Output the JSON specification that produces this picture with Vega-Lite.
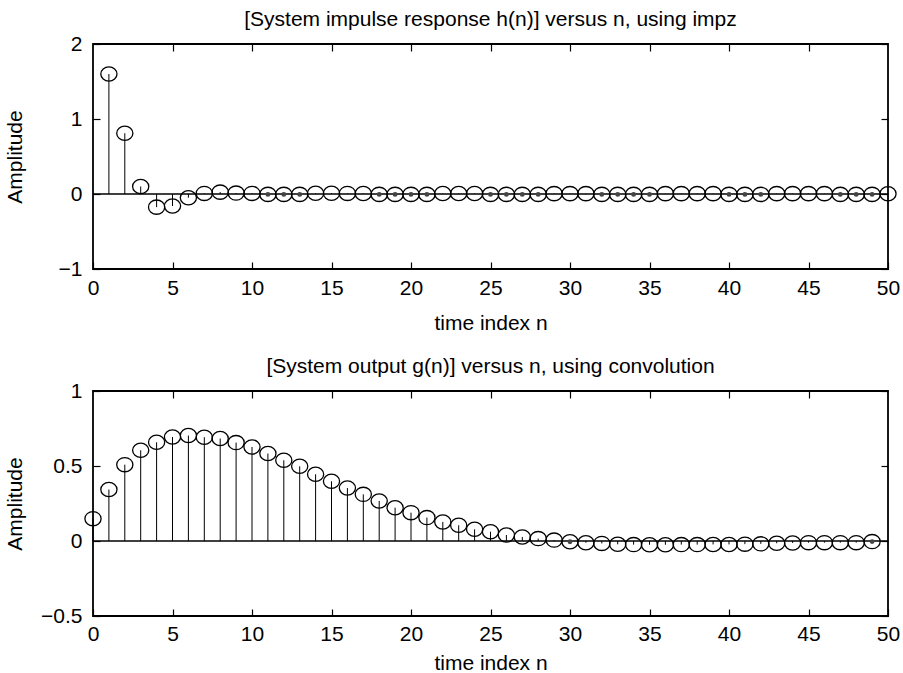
{
  "$schema": "https://vega.github.io/schema/vega-lite/v6.json",
  "background": "white",
  "padding": {"left": 3, "top": 8, "right": 4, "bottom": 4},
  "bounds": "flush",
  "spacing": 122,
  "config": {
    "font": "Liberation Sans",
    "view": {"stroke": "black", "strokeWidth": 1.8},
    "axis": {
      "domain": false, "grid": false, "tickColor": "black", "tickWidth": 1.2, "tickSize": -7,
      "labelFontSize": 21, "labelColor": "black", "titleFontSize": 21, "titleColor": "black",
      "titleFontWeight": "normal", "labelFlush": false, "labelOverlap": false, "labelFont": "Liberation Sans", "titleFont": "Liberation Sans"
    },
    "title": {"fontSize": 21, "fontWeight": "normal", "color": "black", "font": "Liberation Sans"}
  },
  "datasets": {
    "h": [
      {"n": 1, "h": 1.60}, {"n": 2, "h": 0.81}, {"n": 3, "h": 0.10}, {"n": 4, "h": -0.175}, {"n": 5, "h": -0.16},
      {"n": 6, "h": -0.05}, {"n": 7, "h": 0.008}, {"n": 8, "h": 0.025}, {"n": 9, "h": 0.012}, {"n": 10, "h": 0.008},
      {"n": 11, "h": -0.005}, {"n": 12, "h": -0.005}, {"n": 13, "h": -0.005}, {"n": 14, "h": 0.01}, {"n": 15, "h": 0.01},
      {"n": 16, "h": 0.008}, {"n": 17, "h": 0.006}, {"n": 18, "h": -0.005}, {"n": 19, "h": -0.005}, {"n": 20, "h": -0.005},
      {"n": 21, "h": -0.005}, {"n": 22, "h": 0.006}, {"n": 23, "h": 0.006}, {"n": 24, "h": 0.006}, {"n": 25, "h": -0.005},
      {"n": 26, "h": -0.005}, {"n": 27, "h": -0.005}, {"n": 28, "h": -0.005}, {"n": 29, "h": 0.005}, {"n": 30, "h": 0.005},
      {"n": 31, "h": 0.005}, {"n": 32, "h": -0.005}, {"n": 33, "h": -0.005}, {"n": 34, "h": -0.005}, {"n": 35, "h": -0.005},
      {"n": 36, "h": 0.005}, {"n": 37, "h": 0.005}, {"n": 38, "h": 0.005}, {"n": 39, "h": 0.005}, {"n": 40, "h": -0.005},
      {"n": 41, "h": -0.005}, {"n": 42, "h": -0.005}, {"n": 43, "h": 0.005}, {"n": 44, "h": 0.005}, {"n": 45, "h": 0.005},
      {"n": 46, "h": 0.005}, {"n": 47, "h": -0.005}, {"n": 48, "h": -0.005}, {"n": 49, "h": -0.005}, {"n": 50, "h": 0.004}
    ],
    "g": [
      {"n": 0, "g": 0.149}, {"n": 1, "g": 0.343}, {"n": 2, "g": 0.509}, {"n": 3, "g": 0.605}, {"n": 4, "g": 0.658},
      {"n": 5, "g": 0.693}, {"n": 6, "g": 0.703}, {"n": 7, "g": 0.692}, {"n": 8, "g": 0.683}, {"n": 9, "g": 0.656},
      {"n": 10, "g": 0.627}, {"n": 11, "g": 0.583}, {"n": 12, "g": 0.538}, {"n": 13, "g": 0.498}, {"n": 14, "g": 0.445},
      {"n": 15, "g": 0.398}, {"n": 16, "g": 0.353}, {"n": 17, "g": 0.311}, {"n": 18, "g": 0.267}, {"n": 19, "g": 0.222},
      {"n": 20, "g": 0.189}, {"n": 21, "g": 0.156}, {"n": 22, "g": 0.127}, {"n": 23, "g": 0.105}, {"n": 24, "g": 0.078},
      {"n": 25, "g": 0.062}, {"n": 26, "g": 0.040}, {"n": 27, "g": 0.027}, {"n": 28, "g": 0.016}, {"n": 29, "g": 0.006},
      {"n": 30, "g": -0.005}, {"n": 31, "g": -0.012}, {"n": 32, "g": -0.016}, {"n": 33, "g": -0.022}, {"n": 34, "g": -0.024},
      {"n": 35, "g": -0.025}, {"n": 36, "g": -0.025}, {"n": 37, "g": -0.024}, {"n": 38, "g": -0.024}, {"n": 39, "g": -0.023},
      {"n": 40, "g": -0.023}, {"n": 41, "g": -0.021}, {"n": 42, "g": -0.019}, {"n": 43, "g": -0.015}, {"n": 44, "g": -0.013},
      {"n": 45, "g": -0.011}, {"n": 46, "g": -0.011}, {"n": 47, "g": -0.011}, {"n": 48, "g": -0.011}, {"n": 49, "g": -0.004}
    ]
  },
  "vconcat": [
    {
      "width": 795, "height": 225,
      "title": {"text": "[System impulse response h(n)] versus n, using impz", "offset": 3},
      "data": {"name": "h"},
      "layer": [
        {
          "data": {"values": [{"z": 0}]},
          "mark": {"type": "rule", "color": "black", "strokeWidth": 1.3},
          "encoding": {"y": {"field": "z", "type": "quantitative", "scale": {"domain": [-1, 2]}, "axis": null}}
        },
        {
          "mark": {"type": "rule", "color": "black", "strokeWidth": 1},
          "encoding": {
            "x": {"field": "n", "type": "quantitative", "scale": {"domain": [0, 50]},
                  "axis": {"orient": "top", "labels": false, "title": null, "values": [5, 10, 15, 20, 25, 30, 35, 40, 45]}},
            "y": {"field": "h", "type": "quantitative", "scale": {"domain": [-1, 2]},
                  "axis": {"orient": "right", "labels": false, "title": null, "values": [-1, 0, 1, 2]}},
            "y2": {"datum": 0}
          }
        },
        {
          "mark": {"type": "point", "shape": "M -1 0 A 1 0.88 0 1 1 1 0 A 1 0.88 0 1 1 -1 0 Z", "size": 262, "filled": false, "color": "black", "strokeWidth": 1.3, "opacity": 1},
          "encoding": {
            "x": {"field": "n", "type": "quantitative", "scale": {"domain": [0, 50]},
                  "axis": {"orient": "bottom", "title": "time index n", "values": [0, 5, 10, 15, 20, 25, 30, 35, 40, 45, 50], "labelPadding": 15, "titleY": 43}},
            "y": {"field": "h", "type": "quantitative", "scale": {"domain": [-1, 2]},
                  "axis": {"orient": "left", "title": "Amplitude", "values": [-1, 0, 1, 2], "format": "~g", "labelPadding": 18, "titleX": -68}}
          }
        },
        {
          "transform": [{"filter": "datum.h < 0 && datum.h > -0.01"}],
          "mark": {"type": "circle", "size": 24, "color": "#444444", "opacity": 1},
          "encoding": {
            "x": {"field": "n", "type": "quantitative", "scale": {"domain": [0, 50]}, "axis": null},
            "y": {"field": "h", "type": "quantitative", "scale": {"domain": [-1, 2]}, "axis": null}
          }
        }
      ],
      "resolve": {"axis": {"x": "independent", "y": "independent"}}
    },
    {
      "width": 795, "height": 225,
      "title": {"text": "[System output g(n)]  versus n, using convolution", "offset": 3},
      "data": {"name": "g"},
      "layer": [
        {
          "data": {"values": [{"z": 0}]},
          "mark": {"type": "rule", "color": "black", "strokeWidth": 1.3},
          "encoding": {"y": {"field": "z", "type": "quantitative", "scale": {"domain": [-0.5, 1]}, "axis": null}}
        },
        {
          "mark": {"type": "rule", "color": "black", "strokeWidth": 1},
          "encoding": {
            "x": {"field": "n", "type": "quantitative", "scale": {"domain": [0, 50]},
                  "axis": {"orient": "top", "labels": false, "title": null, "values": [5, 10, 15, 20, 25, 30, 35, 40, 45]}},
            "y": {"field": "g", "type": "quantitative", "scale": {"domain": [-0.5, 1]},
                  "axis": {"orient": "right", "labels": false, "title": null, "values": [-0.5, 0, 0.5, 1]}},
            "y2": {"datum": 0}
          }
        },
        {
          "mark": {"type": "point", "shape": "M -1 0 A 1 0.88 0 1 1 1 0 A 1 0.88 0 1 1 -1 0 Z", "size": 262, "filled": false, "color": "black", "strokeWidth": 1.3, "opacity": 1},
          "encoding": {
            "x": {"field": "n", "type": "quantitative", "scale": {"domain": [0, 50]},
                  "axis": {"orient": "bottom", "title": "time index n", "values": [0, 5, 10, 15, 20, 25, 30, 35, 40, 45, 50], "labelPadding": 14, "titleY": 36}},
            "y": {"field": "g", "type": "quantitative", "scale": {"domain": [-0.5, 1]},
                  "axis": {"orient": "left", "title": "Amplitude", "values": [-0.5, 0, 0.5, 1], "format": "~g", "labelPadding": 18, "titleX": -68}}
          }
        },
        {
          "transform": [{"filter": "datum.g < 0 && datum.g > -0.01"}],
          "mark": {"type": "circle", "size": 24, "color": "#444444", "opacity": 1},
          "encoding": {
            "x": {"field": "n", "type": "quantitative", "scale": {"domain": [0, 50]}, "axis": null},
            "y": {"field": "g", "type": "quantitative", "scale": {"domain": [-0.5, 1]}, "axis": null}
          }
        }
      ],
      "resolve": {"axis": {"x": "independent", "y": "independent"}}
    }
  ]
}
